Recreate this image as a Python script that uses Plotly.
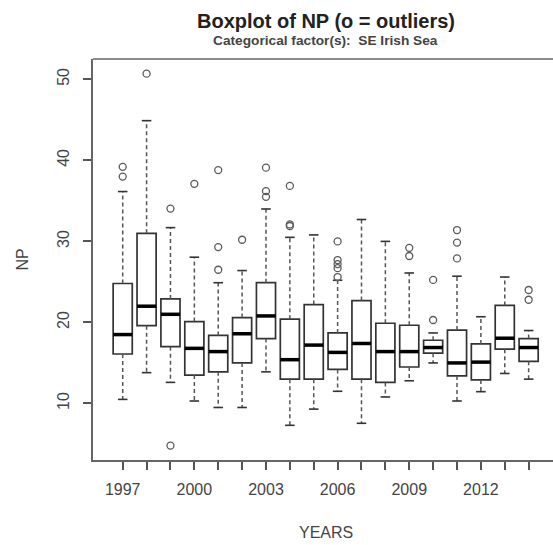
import plotly.graph_objects as go

# ---- data ----
years = list(range(1997, 2015))
lower_whisker = [10.5, 13.8, 12.6, 10.3, 9.5, 9.5, 13.9, 7.3, 9.3, 11.5, 7.55, 10.8, 12.8, 15.0, 10.3, 11.45, 13.7, 13.0]
q1 = [16.1, 19.6, 17.0, 13.5, 13.9, 15.0, 18.0, 13.0, 13.0, 14.2, 13.0, 12.6, 14.5, 16.2, 13.4, 12.9, 16.7, 15.2]
median = [18.5, 22.0, 21.0, 16.8, 16.4, 18.6, 20.8, 15.4, 17.2, 16.3, 17.4, 16.4, 16.4, 16.9, 15.0, 15.1, 18.05, 16.9]
q3 = [24.8, 31.0, 22.9, 20.1, 18.4, 20.6, 24.9, 20.4, 22.2, 18.7, 22.7, 19.9, 19.65, 17.8, 19.05, 17.35, 22.1, 18.0]
upper_whisker = [36.15, 44.9, 31.7, 28.05, 24.9, 26.4, 34.0, 30.5, 30.8, 25.2, 32.7, 30.0, 26.1, 18.7, 25.7, 20.7, 25.6, 19.0]

outlier_years = [1997, 1997, 1998, 1999, 1999, 2000, 2001, 2001, 2001, 2002,
                 2003, 2003, 2003, 2004, 2004, 2004,
                 2006, 2006, 2006, 2006, 2006, 2009, 2009, 2010, 2010,
                 2011, 2011, 2011, 2014, 2014]
outlier_values = [39.2, 38.0, 50.7, 34.05, 4.8, 37.1, 38.8, 29.3, 26.5, 30.2,
                  39.1, 36.2, 35.5, 36.85, 32.1, 31.9,
                  30.0, 27.7, 27.2, 26.7, 25.6, 29.2, 28.2, 25.25, 20.3,
                  31.4, 29.85, 27.9, 24.0, 22.8]

labeled_years = [1997, 2000, 2003, 2006, 2009, 2012]
y_ticks = [10, 20, 30, 40, 50]

title = "<b>Boxplot of NP (o = outliers)</b>"
subtitle = "<b>Categorical factor(s):  SE Irish Sea</b>"
x_title = "YEARS"
y_title = "NP"

# ---- styling ----
FONT = "Liberation Sans, Arial, sans-serif"
BOXW = 0.8
CAPW = 0.4
DARK = "#333333"
GREY = "#555555"

fig = go.Figure()

# Boxes (no whiskers; drawn below as dashed lines like R)
fig.add_trace(go.Box(
    x=years, q1=q1, median=median, q3=q3,
    lowerfence=q1, upperfence=q3,
    width=BOXW, whiskerwidth=0,
    fillcolor="white",
    line=dict(color=DARK, width=1.7),
    boxpoints=False, showlegend=False, hoverinfo="skip",
))

# Dashed whiskers
wx, wy = [], []
for yr, lo, a, b, hi in zip(years, lower_whisker, q1, q3, upper_whisker):
    wx += [yr, yr, None, yr, yr, None]
    wy += [b, hi, None, a, lo, None]
fig.add_trace(go.Scatter(x=wx, y=wy, mode="lines",
                         line=dict(color=GREY, width=1.5, dash="4px,3px"),
                         showlegend=False, hoverinfo="skip"))

# Whisker caps
cx, cy = [], []
for yr, lo, hi in zip(years, lower_whisker, upper_whisker):
    cx += [yr - CAPW / 2, yr + CAPW / 2, None, yr - CAPW / 2, yr + CAPW / 2, None]
    cy += [hi, hi, None, lo, lo, None]
fig.add_trace(go.Scatter(x=cx, y=cy, mode="lines",
                         line=dict(color=DARK, width=1.6),
                         showlegend=False, hoverinfo="skip"))

# Thick medians
mx, my = [], []
for yr, m in zip(years, median):
    mx += [yr - BOXW / 2, yr + BOXW / 2, None]
    my += [m, m, None]
fig.add_trace(go.Scatter(x=mx, y=my, mode="lines",
                         line=dict(color="black", width=3.5),
                         showlegend=False, hoverinfo="skip"))

# Outliers
fig.add_trace(go.Scatter(x=outlier_years, y=outlier_values, mode="markers",
                         marker=dict(symbol="circle-open", size=7,
                                     color="#5a5a5a", line=dict(width=1.3)),
                         showlegend=False, hoverinfo="skip"))

x_text = [str(y) if y in labeled_years else "" for y in years]

fig.update_layout(
    width=553, height=545,
    margin=dict(l=93, r=0, t=59, b=85),
    paper_bgcolor="white", plot_bgcolor="white",
    font=dict(family=FONT, color="#444444", size=16),
    xaxis=dict(range=[1995.756, 2015.02], tickvals=years, ticktext=x_text,
               showgrid=False, zeroline=False, showline=True,
               linecolor="#666666", linewidth=1.6,
               ticks="outside", ticklen=8, tickcolor="#555555", tickwidth=1.5,
               tickfont=dict(size=16, color="#444444"),
               ticklabelstandoff=6),
    yaxis=dict(range=[3.02, 52.51], tickvals=y_ticks,
               showgrid=False, zeroline=False, showline=True,
               linecolor="#666666", linewidth=1.6,
               ticks="outside", ticklen=8, tickcolor="#555555", tickwidth=1.5,
               tickangle=-90, tickfont=dict(size=16, color="#444444"),
               ticklabelstandoff=8),
    shapes=[dict(type="line", xref="paper", yref="paper",
                 x0=0, x1=1, y0=1, y1=1,
                 line=dict(color="#666666", width=1.6))],
    annotations=[
        dict(text=title, xref="x", yref="paper", x=2005.5, y=1.0948,
             xanchor="center", yanchor="middle", showarrow=False,
             font=dict(size=20, color="#222222", family=FONT)),
        dict(text=subtitle, xref="x", yref="paper", x=2005.5, y=1.0449,
             xanchor="center", yanchor="middle", showarrow=False,
             font=dict(size=13.7, color="#444444", family=FONT)),
        dict(text=x_title, xref="x", yref="paper", x=2005.5, y=-0.1796,
             xanchor="center", yanchor="middle", showarrow=False,
             font=dict(size=16, color="#444444", family=FONT)),
        dict(text=y_title, xref="paper", yref="paper", x=-0.1543, y=0.5,
             xanchor="center", yanchor="middle", showarrow=False, textangle=-90,
             font=dict(size=16, color="#444444", family=FONT)),
    ],
)

fig.write_html("out.html")
